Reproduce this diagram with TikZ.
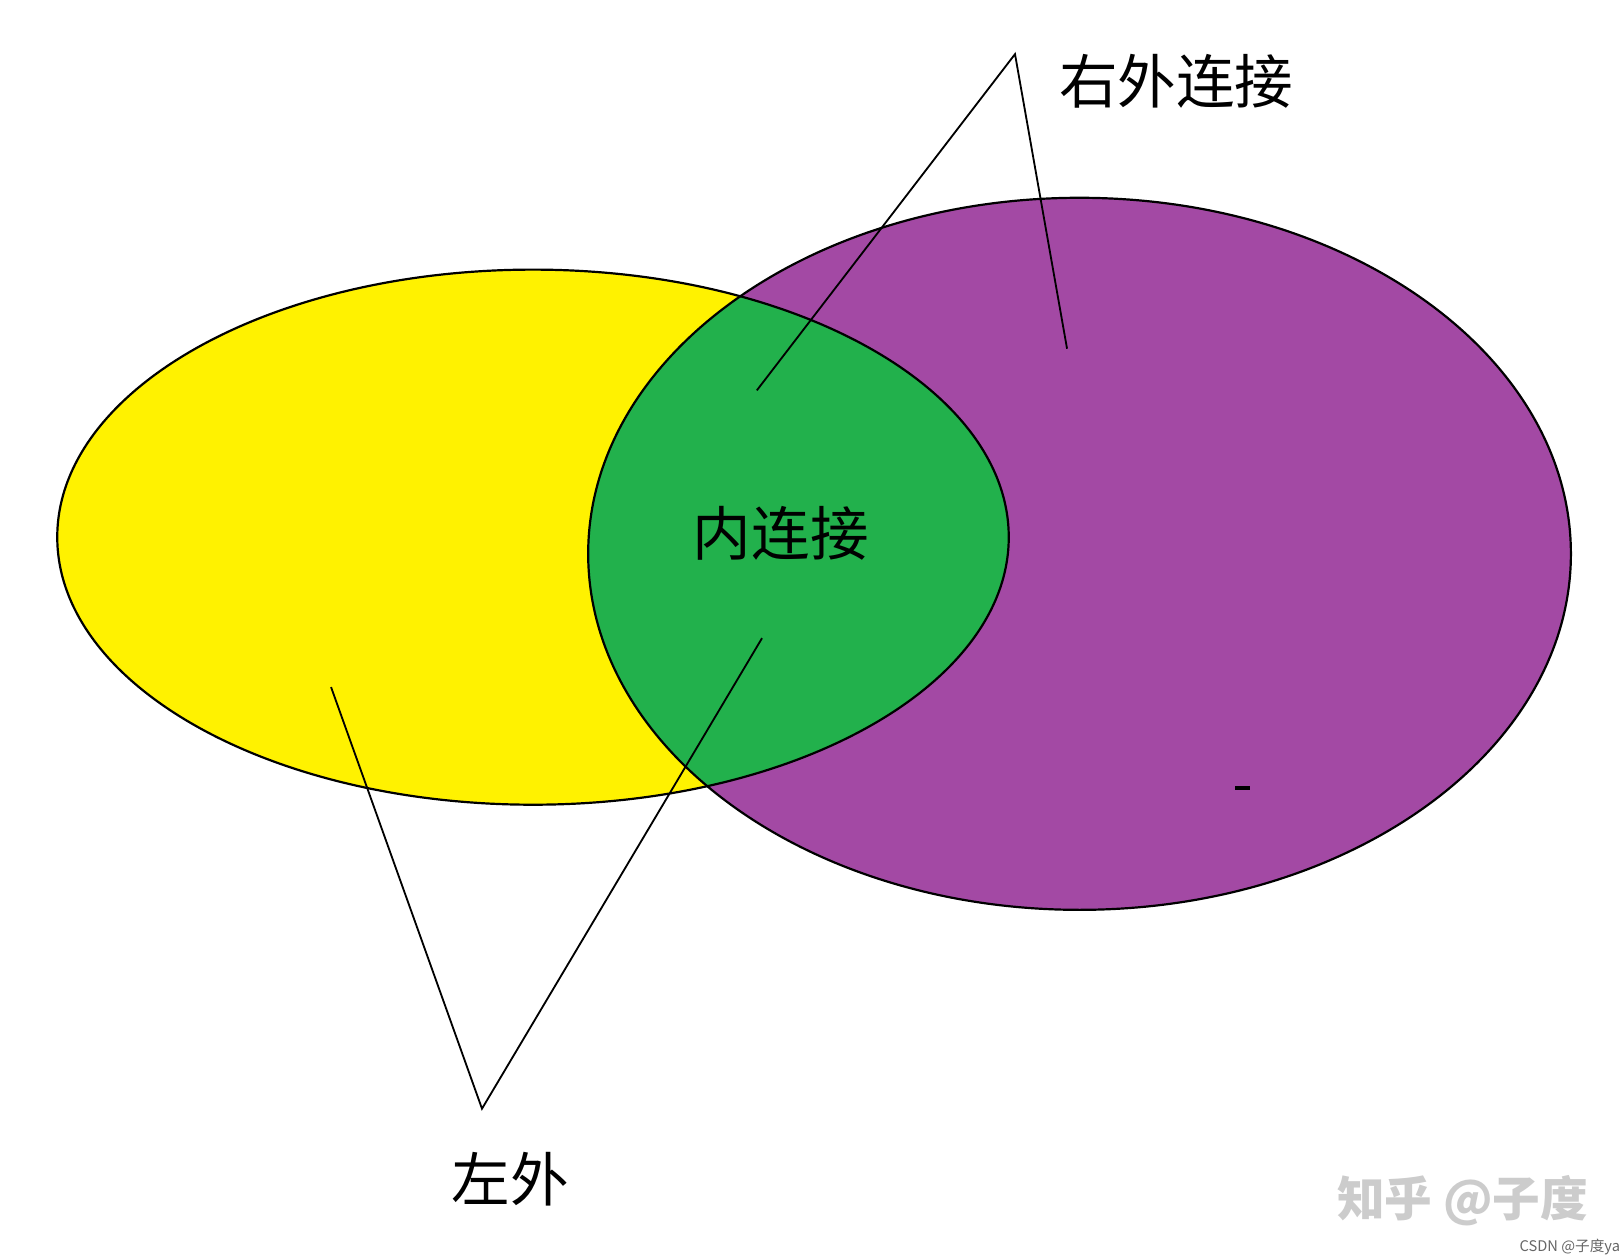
\documentclass[tikz,border=0pt]{standalone}
\usepackage{fontspec}
\newfontfamily\cjk{Noto Sans CJK SC}
\definecolor{yel}{RGB}{255,242,0}
\definecolor{pur}{RGB}{163,73,164}
\definecolor{grn}{RGB}{34,177,76}
\begin{document}
\begin{tikzpicture}[x=0.01cm,y=-0.01cm,
  lbl/.style={font=\cjk\fontsize{16}{18}\selectfont},
  thin line/.style={draw=black,line width=0.5pt}]
\useasboundingbox (0,0) rectangle (1560,1210);
\fill[white] (0,0) rectangle (1560,1210);
\fill[pur] (1037,532) ellipse [x radius=472,y radius=342];
\fill[yel] (512,516) ellipse [x radius=457,y radius=257];
\begin{scope}
\clip (1037,532) ellipse [x radius=472,y radius=342];
\fill[grn] (512,516) ellipse [x radius=457,y radius=257];
\end{scope}
\draw[line width=0.6pt] (1037,532) ellipse [x radius=472,y radius=342];
\draw[line width=0.6pt] (512,516) ellipse [x radius=457,y radius=257];
\coordinate (ra) at (975,52);
\coordinate (r1) at (727,375);
\coordinate (r2) at (1025,335);
\coordinate (la) at (463,1065);
\coordinate (l1) at (318,660);
\coordinate (l2) at (732,613);
\draw[thin line] (r1) -- (ra) -- (r2);
\draw[thin line] (l1) -- (la) -- (l2);
\node[lbl] (right) at (1130,78) {右外连接};
\node[lbl] (inner) at (750,512) {内连接};
\node[lbl] (left) at (490,1133) {左外};
\fill[black] (1186,755) rectangle (1201,759);
\node[font=\cjk\fontsize{13}{15}\selectfont\bfseries,text=black!20] (wm) at (1405,1153) {知乎 @子度};
\node[font=\cjk\fontsize{4}{5}\selectfont,text=black!60] (csdn) at (1508,1198) {CSDN @子度ya};
\end{tikzpicture}
\end{document}
